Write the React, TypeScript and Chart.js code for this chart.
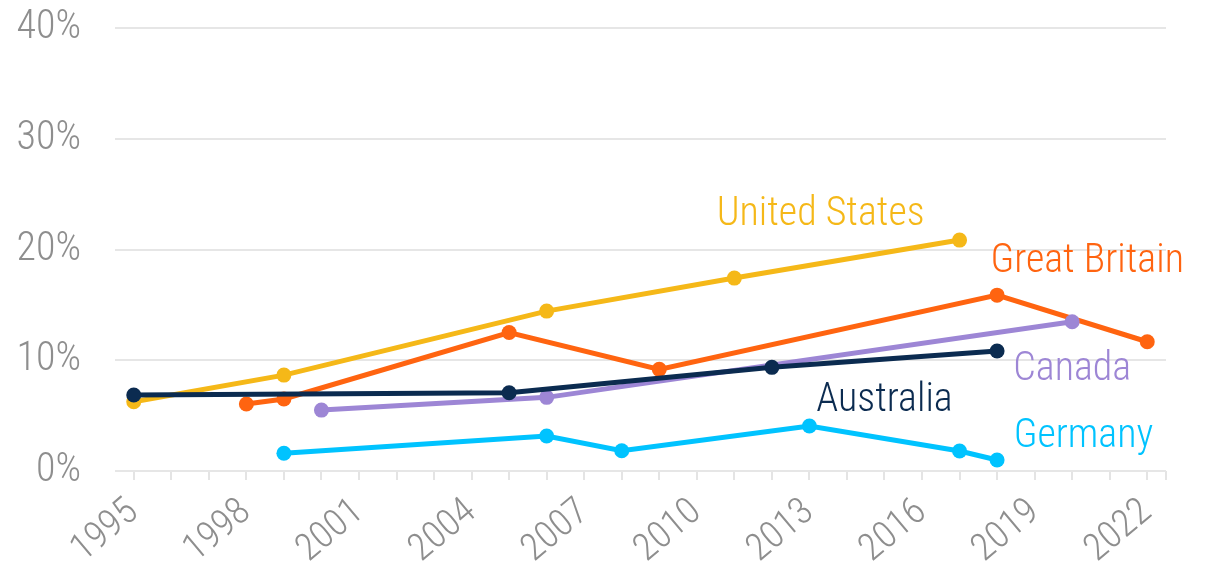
import React, { useEffect, useRef } from "react";
import { Chart, registerables } from "chart.js";

Chart.register(...registerables);

const FONT = "'Roboto Condensed', Roboto, sans-serif";
const WEIGHT = "300";

const usYears = [1995, 1999, 2006, 2011, 2017];
const usValues = [6.25, 8.66, 14.44, 17.42, 20.85];

const gbYears = [1998, 1999, 2005, 2009, 2018, 2022];
const gbValues = [6.05, 6.5, 12.5, 9.18, 15.88, 11.67];

const caYears = [2000, 2006, 2020];
const caValues = [5.5, 6.65, 13.47];

const auYears = [1995, 2005, 2012, 2018];
const auValues = [6.86, 7.07, 9.36, 10.83];

const deYears = [1999, 2006, 2008, 2013, 2017, 2018];
const deValues = [1.6, 3.16, 1.83, 4.06, 1.8, 0.99];

const seriesNames = ["Germany", "Australia", "Canada", "Great Britain", "United States"];
const seriesColors = ["#00C3FF", "#0B2B50", "#9D86D5", "#FF6410", "#F5B818"];
// label anchors in data units (year, percent)
const labelYears = [2020.3, 2015.0, 2020.0, 2020.4, 2013.3];
const labelValues = [3.1, 6.3, 9.1, 18.9, 23.1];

const yTicks = [0, 10, 20, 30, 40];
const xMin = 1994.5;
const xMax = 2022.5;
const xTickYears = [...Array.from({ length: 28 }, (_, i) => 1995 + i), xMax];
const xLabelEvery = 3;

const toPts = (xs: number[], ys: number[]) => xs.map((x, i) => ({ x, y: ys[i] }));

export default function App() {
  const ref = useRef<HTMLCanvasElement>(null);
  useEffect(() => {
    document.body.style.margin = "0";
    const seriesData = [
      toPts(deYears, deValues),
      toPts(auYears, auValues),
      toPts(caYears, caValues),
      toPts(gbYears, gbValues),
      toPts(usYears, usValues),
    ];
    const labelPlugin = {
      id: "seriesLabels",
      afterDatasetsDraw(chart: any) {
        const { ctx, scales } = chart;
        ctx.save();
        ctx.font = `${WEIGHT} 40px ${FONT}`;
        ctx.textAlign = "center";
        ctx.textBaseline = "middle";
        seriesNames.forEach((name, i) => {
          ctx.fillStyle = seriesColors[i];
          ctx.fillText(name, scales.x.getPixelForValue(labelYears[i]), scales.y.getPixelForValue(labelValues[i]));
        });
        ctx.restore();
      },
    };
    const chart = new Chart(ref.current!, {
      type: "line",
      data: {
        datasets: seriesNames.map((name, i) => ({
          label: name,
          data: seriesData[i],
          borderColor: seriesColors[i],
          backgroundColor: seriesColors[i],
          pointBackgroundColor: seriesColors[i],
          pointBorderWidth: 0,
          pointRadius: 7.5,
          borderWidth: 5,
          tension: 0,
        })),
      },
      options: {
        animation: false,
        responsive: false,
        layout: { padding: { top: 28, right: 41, left: 0, bottom: 0 } },
        plugins: { legend: { display: false }, tooltip: { enabled: false } },
        scales: {
          x: {
            type: "linear",
            min: xMin,
            max: xMax,
            afterBuildTicks: (s: any) => {
              s.ticks = xTickYears.map((v) => ({ value: v }));
            },
            afterFit: (s: any) => {
              s.height = 96;
            },
            border: { display: false },
            grid: { drawOnChartArea: false, drawTicks: true, tickLength: 9, color: "#e4e4e4", lineWidth: 2 },
            ticks: {
              autoSkip: false,
              minRotation: 40,
              maxRotation: 40,
              padding: 10,
              color: "#8e8e8e",
              font: { family: FONT, size: 38, weight: WEIGHT },
              callback: (v: any) => (Number.isInteger(v) && (v - 1995) % xLabelEvery === 0 ? String(v) : ""),
            },
          },
          y: {
            min: 0,
            max: 40,
            afterBuildTicks: (s: any) => {
              s.ticks = yTicks.map((v) => ({ value: v }));
            },
            afterFit: (s: any) => {
              s.width = 115;
            },
            border: { display: false },
            grid: { drawTicks: true, tickLength: 34, tickColor: "rgba(0,0,0,0)", color: "#e6e6e6", lineWidth: 2 },
            ticks: {
              padding: 0,
              color: "#8e8e8e",
              font: { family: FONT, size: 40, weight: WEIGHT },
              callback: (v: any) => `${v}%`,
            },
          },
        },
      },
      plugins: [labelPlugin],
    });
    return () => chart.destroy();
  }, []);
  return (
    <div style={{ width: 1207, height: 567, background: "#fff" }}>
      <canvas ref={ref} width={1207} height={567} />
    </div>
  );
}
